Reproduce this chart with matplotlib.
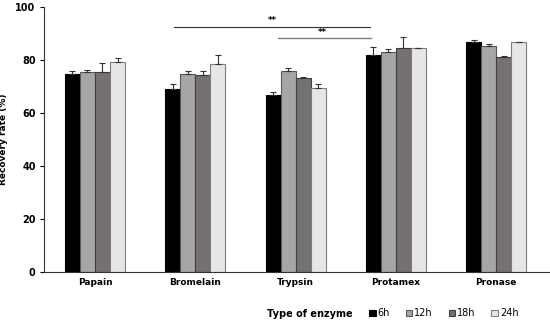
import numpy as np
import matplotlib.pyplot as plt

enzymes = ["Papain", "Bromelain", "Trypsin", "Protamex", "Pronase"]
times = ["6h", "12h", "18h", "24h"]
values = {
    "6h": [75.0, 69.0, 67.0, 82.0, 86.8],
    "12h": [75.5, 75.0, 76.0, 83.2, 85.3],
    "18h": [75.5, 74.5, 73.4, 84.7, 81.3],
    "24h": [79.5, 78.5, 69.4, 84.7, 86.8],
}
errors = {
    "6h": [1.0, 2.0, 1.0, 3.0, 1.0],
    "12h": [1.0, 1.0, 1.0, 1.2, 1.0],
    "18h": [3.5, 1.5, 0.4, 4.3, 0.4],
    "24h": [1.5, 3.5, 1.5, 0.0, 0.0],
}
colors = ["#000000", "#a6a6a6", "#767171", "#e7e6e6"]
edges = ["#000000", "#595959", "#3f3f3f", "#7f7f7f"]

fig = plt.figure(figsize=(5.5, 3.23), dpi=100)
ax = fig.add_axes([0.08, 0.158, 0.92, 0.819])

x = np.arange(len(enzymes))
w = 0.15
handles = []
for i, t in enumerate(times):
    pos = x + (i - 1.5) * w
    b = ax.bar(pos, values[t], w, color=colors[i], edgecolor=edges[i], linewidth=0.8,
               yerr=[np.zeros(len(enzymes)), errors[t]], capsize=2,
               error_kw=dict(ecolor="#333333", elinewidth=0.8, capthick=0.8))
    handles.append(b)

# significance lines
ax.plot([0.79, 2.74], [92.6, 92.6], color="#333333", lw=0.8)
ax.text(1.77, 93.2, "**", ha="center", va="bottom", fontsize=6, fontweight="bold")
ax.plot([1.82, 2.75], [88.4, 88.4], color="#808080", lw=1.0)
ax.text(2.27, 89.0, "**", ha="center", va="bottom", fontsize=6, fontweight="bold")

ax.set_xlim(-0.508, 4.536)
ax.set_ylim(0, 100)
ax.set_yticks([0, 20, 40, 60, 80, 100])
ax.set_xticks(x)
ax.set_xticklabels(enzymes, fontsize=6.5, fontweight="bold")
for lab in ax.get_yticklabels():
    lab.set_fontsize(7)
    lab.set_fontweight("bold")
ax.tick_params(axis="x", length=0, pad=4)
ax.tick_params(axis="y", length=3, width=0.8, pad=3)
ax.spines["top"].set_visible(False)
ax.spines["right"].set_visible(False)
ax.spines["left"].set_color("#333333")
ax.spines["bottom"].set_color("#333333")
ax.set_ylabel("Recovery rate (%)", fontsize=6.5, fontweight="bold")
ax.yaxis.set_label_coords(-0.071, 0.5)

fig.text(0.485, 0.028, "Type of enzyme", fontsize=7, fontweight="bold", va="center")
fig.legend(handles, times, loc="center left", bbox_to_anchor=(0.655, 0.03), ncol=4,
           frameon=False, fontsize=7, handlelength=0.7, handleheight=0.7,
           handletextpad=0.2, columnspacing=1.6)

fig.savefig("out.png", dpi=100)
